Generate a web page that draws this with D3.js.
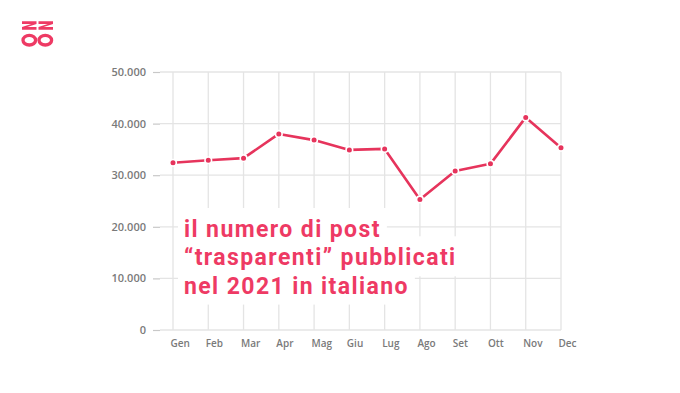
<!DOCTYPE html>
<html>
<head>
<meta charset="utf-8">
<script src="https://cdn.jsdelivr.net/npm/d3@7"></script>
<style>
  html, body { margin: 0; padding: 0; background: #fff; }
  svg { display: block; }
</style>
</head>
<body>
<svg id="chart" width="680" height="393"></svg>
<script>
const months = ["Gen","Feb","Mar","Apr","Mag","Giu","Lug","Ago","Set","Ott","Nov","Dec"];
const posts = [32400, 32900, 33300, 38000, 36800, 34900, 35100, 25300, 30800, 32200, 41200, 35300];
const yTicks = [0, 10000, 20000, 30000, 40000, 50000];
const titleLines = ["il numero di post", "“trasparenti” pubblicati", "nel 2021 in italiano"];

const pink = "#ee3a64";
const lineColor = "#e6345c";
const svg = d3.select("#chart");

const locale = d3.formatLocale({decimal: ",", thousands: ".", grouping: [3], currency: ["€", ""]});
const fmt = locale.format(",d");

const x = d3.scalePoint().domain(months).range([173, 561]);
const y = d3.scaleLinear().domain([0, 50000]).range([330, 72]);

// y ticks + labels
const yAxis = d3.axisLeft(y).tickValues(yTicks).tickFormat(fmt).tickSize(7).tickPadding(7);
const gy = svg.append("g").attr("transform", "translate(160,0)").call(yAxis);
gy.select(".domain").remove();
gy.selectAll(".tick line").attr("stroke", "#c8c8c8").attr("stroke-width", 1.2);
gy.selectAll(".tick text")
  .attr("fill", "#7a7a7a").attr("font-family", "'Open Sans', sans-serif")
  .attr("font-size", 11).attr("font-weight", 600);

// horizontal gridlines
svg.append("g").selectAll("line").data(yTicks).join("line")
  .attr("x1", 160).attr("x2", x("Dec"))
  .attr("y1", d => y(d)).attr("y2", d => y(d))
  .attr("stroke", "#e4e4e4").attr("stroke-width", 1.3);

// vertical gridlines
svg.append("g").selectAll("line").data(months).join("line")
  .attr("x1", d => x(d)).attr("x2", d => x(d))
  .attr("y1", y(50000)).attr("y2", y(0))
  .attr("stroke", "#e4e4e4").attr("stroke-width", 1.3);

// x labels
const xAxis = d3.axisBottom(x).tickSize(0).tickPadding(10);
const gx = svg.append("g").attr("transform", `translate(0,${y(0)})`).call(xAxis);
gx.select(".domain").remove();
gx.selectAll(".tick text")
  .attr("text-anchor", "start").attr("dx", -3)
  .attr("fill", "#7a7a7a").attr("font-family", "'Open Sans', sans-serif")
  .attr("font-size", 10).attr("font-weight", 600);

// line
const line = d3.line().x((d, i) => x(months[i])).y(d => y(d));
svg.append("path").datum(posts)
  .attr("d", line).attr("fill", "none")
  .attr("stroke", lineColor).attr("stroke-width", 2.6).attr("stroke-linejoin", "round");
svg.append("g").selectAll("circle").data(posts).join("circle")
  .attr("cx", (d, i) => x(months[i])).attr("cy", d => y(d))
  .attr("r", 3.3).attr("fill", lineColor)
  .attr("stroke", "#fff").attr("stroke-width", 1.6);

// title text with per-line white background
const rectG = svg.append("g");
const textG = svg.append("g");
const tx = 184, baseY = 237, lh = 28.3;
titleLines.forEach((t, i) => {
  const txt = textG.append("text").text(t)
    .attr("x", tx).attr("y", baseY + i * lh)
    .attr("fill", pink).attr("font-family", "Roboto, sans-serif")
    .attr("font-size", 23).attr("font-weight", 700)
    .attr("letter-spacing", 1.4);
  const w = txt.node().getComputedTextLength();
  rectG.append("rect").attr("fill", "#fff")
    .attr("x", tx - 6).attr("y", baseY + i * lh - 29)
    .attr("width", w + 12).attr("height", 40);
});

// logo
const logo = svg.append("g");
[22, 38.5].forEach(x0 => {
  logo.append("path").attr("fill", pink)
    .attr("d", `M${x0},21.3 H${x0 + 14.5} V23.9 L${x0 + 5.2},27.1 H${x0 + 14.5} V29.7 H${x0} V27.1 L${x0 + 9.3},23.9 H${x0} Z`);
});
[29.3, 45.3].forEach(cx => {
  logo.append("ellipse").attr("fill", "none").attr("stroke", pink).attr("stroke-width", 3.3)
    .attr("cx", cx).attr("cy", 40.2).attr("rx", 6.3).attr("ry", 4.8);
});
</script>
</body>
</html>
